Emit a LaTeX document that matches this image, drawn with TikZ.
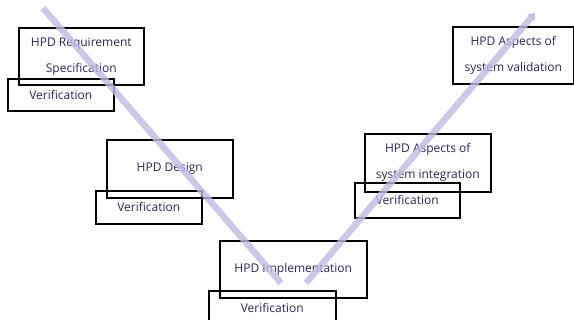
\documentclass[tikz,border=0pt]{standalone}
\usepackage{fontspec}
\setmainfont{Open Sans}
\usetikzlibrary{arrows.meta}
\definecolor{txt}{RGB}{40,40,90}
\definecolor{vline}{RGB}{195,185,225}
\begin{document}
\begin{tikzpicture}[x=1pt,y=-1pt,
  box/.style={draw=black,line width=1.6pt,inner sep=0pt,anchor=north west,text=txt,font=\fontsize{12}{26}\selectfont,align=center},
  vstroke/.style={draw=vline,line width=6.5pt,opacity=0.8}]
\useasboundingbox (0,0) rectangle (574,320);
\begin{scope}
\clip (0,0) rectangle (574,320);
% main boxes
\node[box,minimum width=125pt,minimum height=57pt] (req) at (18,27) {HPD Requirement\\Specification};
\node[box,minimum width=106pt,minimum height=32pt] (vreq) at (7,78) {Verification};
\node[box,minimum width=126pt,minimum height=58pt] (des) at (106,139) {HPD Design};
\node[box,minimum width=106pt,minimum height=33pt] (vdes) at (95,190) {Verification};
\node[box,minimum width=147pt,minimum height=57pt] (imp) at (219,240) {HPD Implementation};
\node[box,minimum width=127pt,minimum height=34pt] (vimp) at (208,290) {Verification};
\node[box,minimum width=126pt,minimum height=58pt] (int) at (364,133) {HPD Aspects of\\system integration};
\node[box,minimum width=105pt,minimum height=35pt] (vint) at (354,182) {Verification};
\node[box,minimum width=121pt,minimum height=57pt] (val) at (452,26) {HPD Aspects of\\system validation};
% V strokes
\coordinate (ls) at (43,8);
\coordinate (le) at (281,283);
\coordinate (rs) at (306,283);
\coordinate (re) at (535,13);
\draw[vstroke] (ls) -- (le);
\draw[vstroke,-{Triangle[width=10pt,length=6pt]}] (rs) -- (re);
\end{scope}
\end{tikzpicture}
\end{document}
